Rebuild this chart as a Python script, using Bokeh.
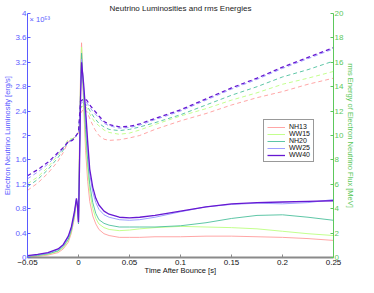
from bokeh.plotting import figure
from bokeh.models import Range1d, LinearAxis, FixedTicker, Label, Legend, LegendItem, Title
from bokeh.embed import file_html
from bokeh.resources import INLINE

# ---- data ----
models = ["NH13", "WW15", "NH20", "WW25", "WW40"]
colors = ["#ff9c9c", "#bcff80", "#4cbf9c", "#9494ff", "#6618d2"]

t_lum = [-0.05, -0.04, -0.03, -0.02, -0.015, -0.01, -0.007, -0.004, -0.002, -0.001, 0.0,
         0.001, 0.002, 0.003, 0.005, 0.007, 0.009, 0.011, 0.014, 0.017, 0.02, 0.025, 0.03,
         0.04, 0.05, 0.06, 0.075, 0.1, 0.125, 0.15, 0.175, 0.2, 0.225, 0.25]

# electron neutrino luminosity, units of 1e53 erg/s
lum_NH13 = [0.01, 0.02, 0.04, 0.08, 0.14, 0.25, 0.4, 0.65, 0.92, 0.8, 0.55, 1.9, 3.0, 3.52, 2.5, 1.75,
            1.25, 0.92, 0.68, 0.55, 0.46, 0.39, 0.36, 0.33, 0.33, 0.33, 0.34, 0.34, 0.35, 0.35,
            0.34, 0.33, 0.31, 0.28]
lum_WW15 = [0.015, 0.03, 0.05, 0.1, 0.16, 0.28, 0.43, 0.68, 0.94, 0.82, 0.56, 1.8, 2.9, 3.45, 2.6,
            1.95, 1.45, 1.08, 0.8, 0.64, 0.55, 0.49, 0.46, 0.44, 0.45, 0.47, 0.49, 0.51, 0.5,
            0.49, 0.47, 0.43, 0.39, 0.36]
lum_NH20 = [0.02, 0.035, 0.06, 0.11, 0.18, 0.3, 0.45, 0.7, 0.95, 0.82, 0.55, 1.7, 2.8, 3.35, 2.7,
            2.1, 1.6, 1.2, 0.9, 0.72, 0.62, 0.56, 0.53, 0.5, 0.5, 0.5, 0.5, 0.52, 0.57, 0.64,
            0.69, 0.7, 0.66, 0.61]
lum_WW25 = [0.025, 0.045, 0.07, 0.13, 0.2, 0.33, 0.48, 0.73, 0.96, 0.84, 0.57, 1.6, 2.7, 3.25, 2.8,
            2.3, 1.8, 1.37, 1.07, 0.9, 0.79, 0.7, 0.66, 0.62, 0.61, 0.62, 0.66, 0.75, 0.83, 0.87,
            0.89, 0.88, 0.9, 0.95]
lum_WW40 = [0.03, 0.05, 0.08, 0.14, 0.21, 0.35, 0.5, 0.75, 0.97, 0.85, 0.58, 1.5, 2.6, 3.2, 2.85,
            2.4, 1.9, 1.45, 1.15, 0.97, 0.86, 0.76, 0.71, 0.66, 0.65, 0.66, 0.69, 0.76, 0.83,
            0.88, 0.9, 0.91, 0.92, 0.93]

t_erms = [-0.05, -0.04, -0.03, -0.02, -0.015, -0.01, -0.006, -0.003, 0.0, 0.002, 0.005, 0.008,
          0.012, 0.016, 0.02, 0.025, 0.03, 0.04, 0.05, 0.06, 0.075, 0.1, 0.125, 0.15, 0.175,
          0.2, 0.225, 0.25]

# rms energy of electron neutrino flux, MeV
erms_NH13 = [5.5, 6.1, 6.9, 7.9, 8.6, 9.5, 9.7, 9.9, 10.2, 11.8, 12.2, 12.0, 11.2, 10.5, 10.0,
             9.7, 9.6, 9.65, 9.8, 10.0, 10.5, 11.2, 11.8, 12.5, 13.1, 13.6, 14.2, 14.7]
erms_WW15 = [6.05, 6.6, 7.4, 8.4, 9.0, 9.7, 9.75, 9.9, 10.3, 12.2, 12.5, 12.3, 11.6, 11.1, 10.8,
             10.45, 10.25, 10.1, 10.2, 10.45, 10.9, 11.6, 12.2, 12.9, 13.5, 14.2, 14.7, 15.25]
erms_NH20 = [5.8, 6.4, 7.2, 8.2, 8.8, 9.5, 9.7, 9.9, 10.3, 12.3, 12.6, 12.5, 11.9, 11.4, 11.0,
             10.7, 10.5, 10.4, 10.5, 10.7, 11.05, 11.7, 12.5, 13.3, 14.0, 14.8, 15.4, 16.1]
erms_WW25 = [6.45, 7.0, 7.65, 8.5, 8.95, 9.45, 9.6, 9.9, 10.3, 12.6, 12.8, 12.7, 12.2, 11.8,
             11.45, 11.0, 10.8, 10.6, 10.65, 10.85, 11.3, 12.0, 12.9, 13.8, 14.6, 15.5, 16.3, 17.1]
erms_WW40 = [6.7, 7.2, 7.8, 8.6, 9.0, 9.5, 9.6, 9.9, 10.3, 12.8, 13.0, 12.9, 12.4, 12.0, 11.6,
             11.15, 10.9, 10.7, 10.75, 10.95, 11.4, 12.1, 13.0, 13.9, 14.7, 15.6, 16.4, 17.2]

x_ticks = [-0.05, 0, 0.05, 0.1, 0.15, 0.2, 0.25]
lum_ticks = [0, 0.4, 0.8, 1.2, 1.6, 2.0, 2.4, 2.8, 3.2, 3.6, 4.0]
erms_ticks = [0, 2, 4, 6, 8, 10, 12, 14, 16, 18, 20]

lums = [lum_NH13, lum_WW15, lum_NH20, lum_WW25, lum_WW40]
ermss = [erms_NH13, erms_WW15, erms_NH20, erms_WW25, erms_WW40]

FONT = "Liberation Sans"
BLUE = "#5a5aff"
GREEN = "#5cc85c"

p = figure(width=358, height=277, output_backend="svg", toolbar_location=None,
           x_range=Range1d(-0.05, 0.25), y_range=Range1d(0, 4.0),
           y_axis_location=None, x_axis_location=None,
           min_border_left=0, min_border_right=0, min_border_top=0, min_border_bottom=0)
p.extra_y_ranges = {"erms": Range1d(0, 20)}
p.outline_line_color = None
p.xgrid.visible = False
p.ygrid.visible = False
p.background_fill_color = "white"
p.border_fill_color = "white"

title = Title(text="Neutrino Luminosities and rms Energies", align="center",
              text_font=FONT, text_font_size="8px", text_font_style="normal",
              text_color="#222222", standoff=2, offset=0)
p.add_layout(title, "above")

def style_axis(ax, color, label_color, tick_standoff, label_standoff):
    ax.axis_line_color = color
    ax.major_tick_line_color = color
    ax.major_tick_in = 3
    ax.major_tick_out = 0
    ax.minor_tick_line_color = None
    ax.major_label_text_font = FONT
    ax.major_label_text_font_size = "8px"
    ax.major_label_text_color = label_color
    ax.major_label_standoff = tick_standoff
    ax.axis_label_text_font = FONT
    ax.axis_label_text_font_size = "7.5px"
    ax.axis_label_text_font_style = "normal"
    ax.axis_label_text_color = label_color
    ax.axis_label_standoff = label_standoff

xax = LinearAxis(axis_label="Time After Bounce [s]", ticker=FixedTicker(ticks=x_ticks))
style_axis(xax, "#8a8a8a", "#111111", 2, -2)
xax.axis_line_width = 2
xax.major_label_overrides = {-0.05: "\u22120.05", 0: "0", 0.05: "0.05", 0.1: "0.1",
                             0.15: "0.15", 0.2: "0.2", 0.25: "0.25"}
p.add_layout(xax, "below")

yax = LinearAxis(axis_label="Electron Neutrino Luminosity [erg/s]",
                 ticker=FixedTicker(ticks=lum_ticks))
style_axis(yax, BLUE, BLUE, 1, 0)
p.add_layout(yax, "left")

y2 = LinearAxis(y_range_name="erms", axis_label="rms Energy of Electron Neutrino Flux [MeV]",
                ticker=FixedTicker(ticks=erms_ticks))
style_axis(y2, GREEN, GREEN, 1, 0)
p.add_layout(y2, "right")

items = []
for name, col, lum, er in zip(models, colors, lums, ermss):
    lw = 1.3 if name == "WW40" else 0.9
    p.line(t_erms, er, y_range_name="erms", line_color=col, line_width=lw, line_dash="4 3")
    r = p.line(t_lum, lum, line_color=col, line_width=lw)
    items.append(LegendItem(label=name, renderers=[r]))

leg = Legend(items=items, location=(236, 95), orientation="vertical",
             label_text_font=FONT, label_text_font_size="7px", label_text_color="#111111",
             label_height=6, glyph_height=6, glyph_width=18, label_standoff=4,
             spacing=0, padding=3, margin=0,
             border_line_color="#333333", border_line_width=1,
             background_fill_color="white", background_fill_alpha=1.0)
p.add_layout(leg, "center")

exp_lbl = Label(x=-0.05, y=4.0, text="\u00d7 10\u2075\u00b3", x_offset=2, y_offset=-1,
                text_font=FONT, text_font_size="7.5px", text_color=BLUE,
                text_baseline="top", text_align="left")
p.add_layout(exp_lbl)

open("out.html", "w").write(file_html(p, INLINE))
